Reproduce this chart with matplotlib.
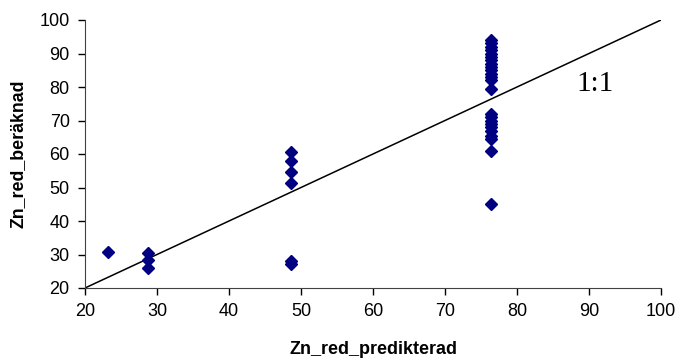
import matplotlib
matplotlib.use("Agg")
import matplotlib.pyplot as plt

x_pred = [23.2,
          28.8, 28.8, 28.8,
          48.6, 48.6, 48.6, 48.6, 48.6, 48.6,
          76.4, 76.4, 76.4, 76.4, 76.4, 76.4, 76.4, 76.4, 76.4, 76.4, 76.4, 76.4,
          76.4, 76.4, 76.4, 76.4, 76.4, 76.4, 76.4, 76.4, 76.4, 76.4, 76.4, 76.4]
y_calc = [30.8,
          30.5, 28.5, 26.0,
          60.5, 58.0, 54.5, 51.2, 28.0, 27.2,
          94.0, 93.0, 92.0, 91.0, 90.0, 89.0, 88.0, 87.0, 86.0, 85.0, 84.0, 83.0,
          82.0, 79.5, 72.0, 71.0, 70.0, 69.0, 68.0, 67.0, 65.5, 64.5, 61.0, 45.0]
ref_line = [20, 100]
x_ticks = [20, 30, 40, 50, 60, 70, 80, 90, 100]
y_ticks = [20, 30, 40, 50, 60, 70, 80, 90, 100]

plt.rcParams['font.family'] = ['Liberation Sans', 'DejaVu Sans']

fig = plt.figure(figsize=(6.79, 3.62), dpi=100)
ax = fig.add_axes([85/679, 74/362, 576/679, 268/362])

ax.plot(ref_line, ref_line, color='black', lw=1.1, zorder=2)
ax.plot(x_pred, y_calc, linestyle='none', marker='D', ms=5.8,
        color='#000080', markeredgecolor='#000080', zorder=3)
ax.text(90.8, 81.0, "1:1", family='Liberation Serif', fontsize=21,
        ha='center', va='center')

ax.set_xlim(20, 100)
ax.set_ylim(20, 100)
ax.set_xticks(x_ticks)
ax.set_yticks(y_ticks)
ax.tick_params(direction='out', length=5, width=1, labelsize=13, pad=6)
for s in ['top', 'right']:
    ax.spines[s].set_visible(False)
for s in ['left', 'bottom']:
    ax.spines[s].set_color('#404040')
ax.set_xlabel("Zn_red_predikterad", fontsize=13, fontweight='bold', labelpad=15)
ax.set_ylabel("Zn_red_beräknad", fontsize=12.8, fontweight='bold', labelpad=9)

fig.savefig("out.png", dpi=100)
